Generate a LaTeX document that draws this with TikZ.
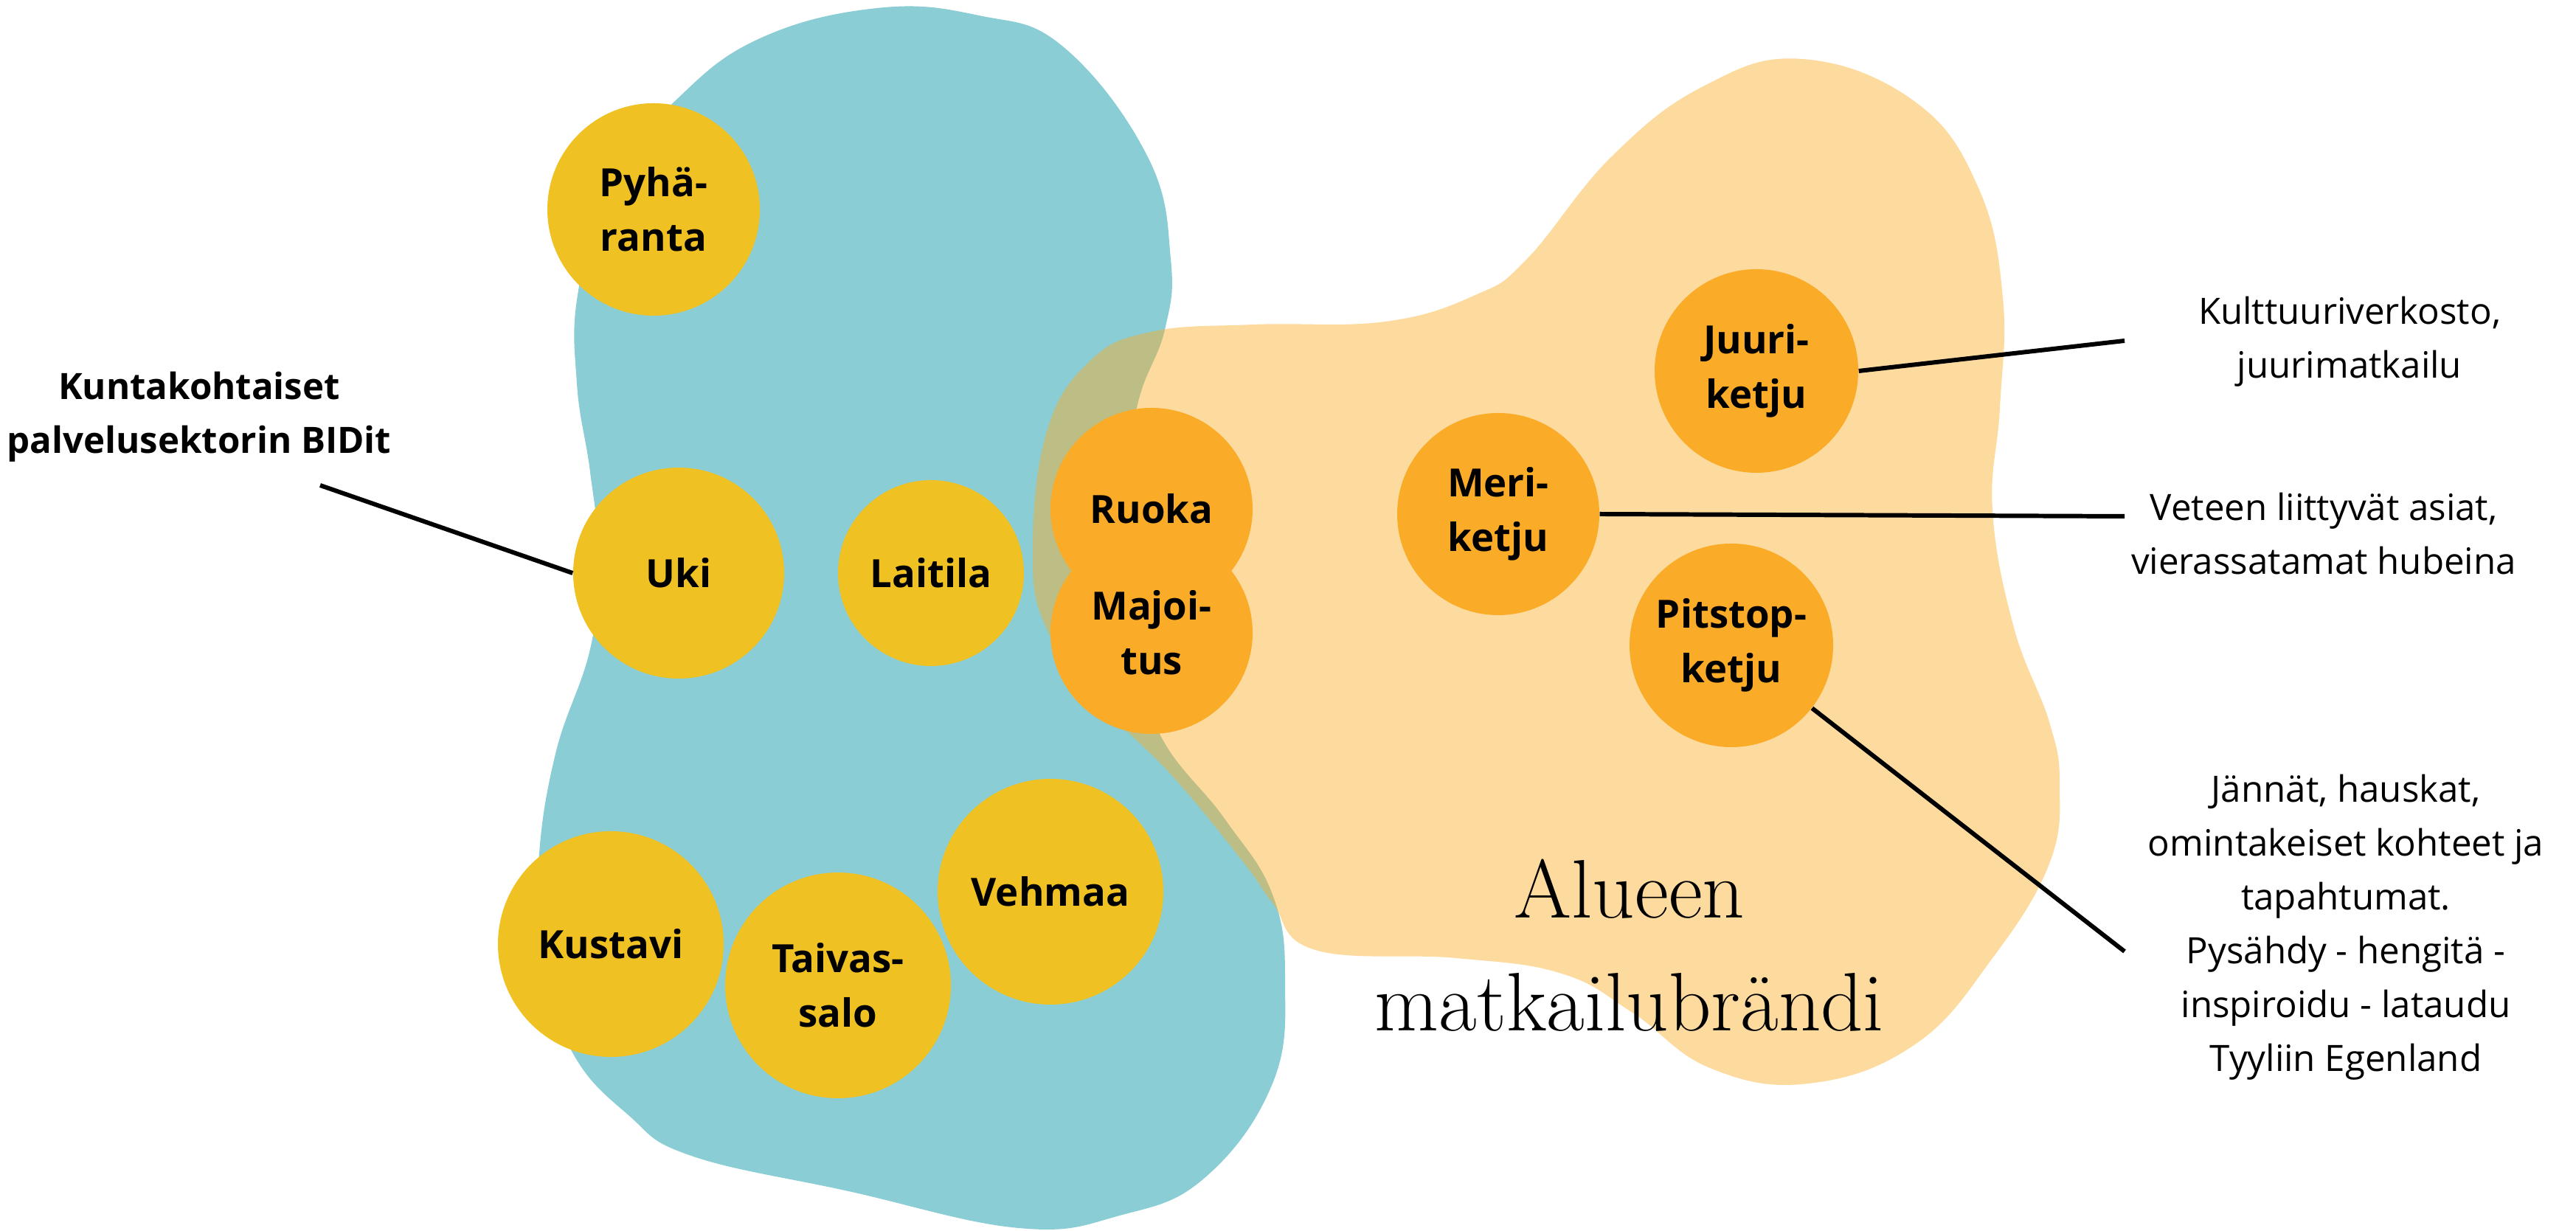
\documentclass[tikz,border=0pt]{standalone}
\usepackage{fontspec}
\usepackage{tikz}
\usetikzlibrary{positioning}
\newfontfamily\osans{Open Sans}
\definecolor{seablue}{RGB}{138,205,212}
\definecolor{townyellow}{RGB}{240,193,35}
\definecolor{brandorange}{RGB}{250,172,40}

\begin{document}
\begin{tikzpicture}[node distance=10mm,on grid,
		town/.style={circle,fill=townyellow,inner sep=0pt,minimum size=30.6mm,align=center,
			font=\osans\bfseries\fontsize{15}{21}\selectfont},
		brand/.style={town,fill=brandorange,minimum size=27.4mm},
		remark/.style={align=center,font=\osans\fontsize{14}{20.8}\selectfont},
		link/.style={line width=1.7pt}]
		\useasboundingbox (0,0) rectangle (34.92,16.69);
		
		% the two areas
		\fill[seablue] plot[smooth cycle,tension=0.7] coordinates {
			(9.14,15.31) (10.28,16.16) (11.89,16.58) (13.27,16.48) (14.42,16.05)
			(15.56,14.56) (15.87,13.18) (15.79,12.22) (15.41,11.16) (15.25,9.69)
			(15.35,8.09) (15.72,6.74) (16.60,5.59) (17.25,4.56) (17.42,3.39)
			(17.25,2.00) (16.33,0.72) (15.18,0.21) (13.81,0.04) (11.50,0.54)
			(9.37,1.02) (8.52,1.57) (7.76,2.42) (7.35,3.69) (7.30,4.98)
			(7.53,6.47) (8.00,7.89) (8.12,9.09) (8.00,10.29) (7.82,11.49)
			(7.84,12.75) (8.30,14.29)};
		\fill[brandorange,fill opacity=0.45] plot[smooth cycle,tension=0.7] coordinates {
			(14.00,9.24) (14.19,10.84) (14.77,11.79) (15.60,12.19) (17.00,12.29)
			(18.78,12.33) (20.00,12.69) (20.70,13.18) (21.84,14.56) (23.09,15.52)
			(24.43,15.89) (25.96,15.31) (26.82,14.14) (27.15,12.65) (27.11,11.16)
			(27.01,9.77) (27.30,8.18) (27.78,6.90) (27.92,6.05) (27.78,4.98)
			(27.01,3.70) (25.96,2.53) (24.52,2.00) (23.18,2.21) (22.13,2.96)
			(21.17,3.49) (19.74,3.70) (17.83,3.81) (17.25,4.45) (16.87,4.98)
			(15.91,6.15) (14.96,7.11) (14.19,8.16)};
		
		% municipalities
		\node[town,minimum size=28.8mm] (pyharanta) at (8.86,13.85) {Pyhä-\\ranta};
		\node[town,minimum size=28.6mm] (uki)       at (9.20,8.92)  {Uki};
		\node[town,minimum size=25.2mm] (laitila)   [right=3.42 of uki] {Laitila};
		\node[town] (kustavi)    at (8.28,3.89)  {Kustavi};
		\node[town] (taivassalo) at (11.36,3.33) {Taivas-\\salo};
		\node[town] (vehmaa)     at (14.24,4.60) {Vehmaa};
		
		% chains of the brand
		\node[brand] (ruoka)    at (15.61,9.79) {Ruoka};
		\node[brand] (majoitus) [below=1.68 of ruoka] {Majoi-\\tus};
		\node[brand] (meri)     at (20.31,9.72) {Meri-\\ketju};
		\node[brand,minimum size=27.6mm] (juuri)   at (23.81,11.66) {Juuri-\\ketju};
		\node[brand,minimum size=27.6mm] (pitstop) at (23.47,7.94)  {Pitstop-\\ketju};
		
		\node[font=\fontsize{32}{43.5}\selectfont,align=center] (brandname) at (22.09,3.87)
			{Alueen\\matkailubrändi};
		
		% texts at the sides
		\node[remark,font=\osans\bfseries\fontsize{14}{20.8}\selectfont] (bidit) at (2.70,11.04)
			{Kuntakohtaiset\\palvelusektorin BIDit};
		\node[remark] (kulttuuri) at (31.85,12.06) {Kulttuuriverkosto,\\juurimatkailu};
		\node[remark] (vesi)      at (31.50,9.45)  {Veteen liittyvät asiat,\\vierassatamat hubeina};
		\node[remark] (kohteet)   at (31.80,4.12)
			{Jännät, hauskat,\\omintakeiset kohteet ja\\tapahtumat.\\Pysähdy - hengitä -\\inspiroidu - lataudu\\Tyyliin Egenland};
		
		\coordinate (ukiend)     at (4.34,10.11);
		\coordinate (juuriend)   at (28.80,12.07);
		\coordinate (meriend)    at (28.80,9.69);
		\coordinate (pitstopend) at (28.80,3.79);
		
		\draw[link] (uki.west) -- (ukiend);
		\draw[link] (juuri.east) -- (juuriend);
		\draw[link] (meri.east) -- (meriend);
		\draw[link] (pitstop) -- (pitstopend);
\end{tikzpicture}
\end{document}
